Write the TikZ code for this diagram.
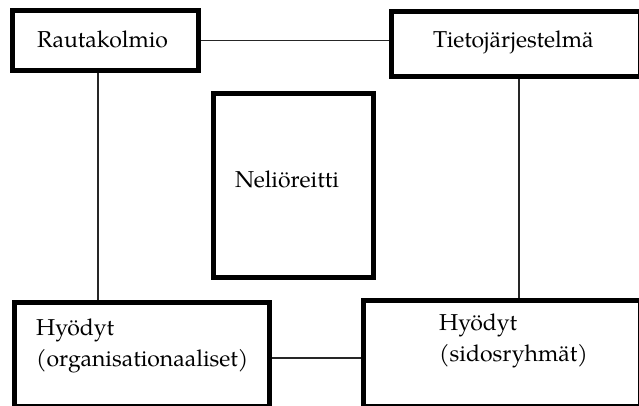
\documentclass[tikz,border=0pt]{standalone}
\usepackage{fontspec}
\setmainfont{TeX Gyre Pagella}
\begin{document}
\begin{tikzpicture}[x=1pt,y=-1pt,
  box/.style={draw=black,line width=5pt,inner sep=0pt,minimum width=#1},
  conn/.style={draw=black!85,line width=1.8pt},
  lbl/.style={inner sep=0pt,anchor=base west,font=\fontsize{23}{27}\selectfont}]
\useasboundingbox (0,0) rectangle (639,405);
\clip (0,0) rectangle (639,405);
% boxes (border centre line)
\node[box=186pt,minimum height=60pt] (rk) at (105.5,40.5) {};
\node[box=249pt,minimum height=65pt] (tj) at (516,44) {};
\node[box=160pt,minimum height=184pt] (nr) at (293.5,185.5) {};
\node[box=255pt,minimum height=104pt] (ho) at (142,354.5) {};
\node[box=277pt,minimum height=106pt] (hs) at (502,353.5) {};
% texts
\node[lbl] (trk) at (37,47) {Rautakolmio};
\node[lbl] (ttj) at (433,47) {Tietojärjestelmä};
\node[lbl] (tnr) at (235,187) {Neliöreitti};
\node[lbl] (tho1) at (36,335) {Hyödyt};
\node[lbl] (tho2) at (36,366) {(organisationaaliset)};
\node[lbl] (ths1) at (439,330) {Hyödyt};
\node[lbl] (ths2) at (439,361) {(sidosryhmät)};
% connectors
\coordinate (c1) at (98.3,0);
\coordinate (c2) at (519,0);
\coordinate (c3) at (0,358);
\draw[conn] (rk.east) -- (rk.east -| tj.west);
\draw[conn] (c1 |- rk.south) -- (c1 |- ho.north);
\draw[conn] (c2 |- tj.south) -- (c2 |- hs.north);
\draw[conn] (c3 -| ho.east) -- (c3 -| hs.west);
\end{tikzpicture}
\end{document}
